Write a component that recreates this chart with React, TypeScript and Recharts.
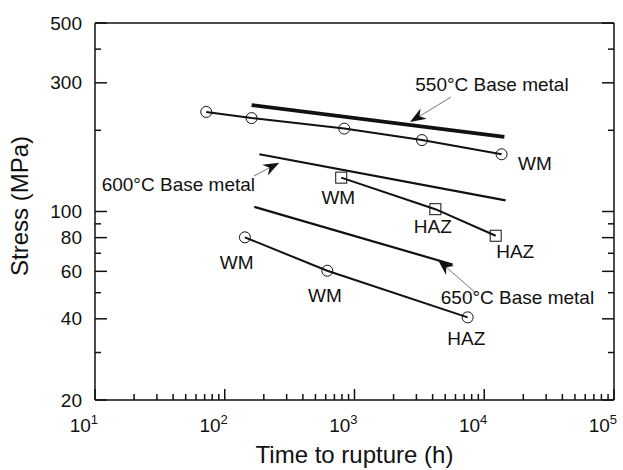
import {
  ComposedChart,
  Scatter,
  XAxis,
  YAxis,
  ReferenceDot,
  ReferenceLine,
  Label,
} from 'recharts';

// time to rupture (h) / stress (MPa)
const wm550Time = [72, 161, 834, 3310, 13600];
const wm550Stress = [234, 222, 203, 184, 163];

const base550Time = [161, 14300];
const base550Stress = [248, 189];

const base600Time = [185, 14600];
const base600Stress = [163, 110];

const weld600Time = [790, 4200, 12250];
const weld600Stress = [133.5, 102, 81.3];

const base650Time = [169, 5700];
const base650Stress = [104, 63.6];

const weld650Time = [143, 617, 7450];
const weld650Stress = [80.2, 60.3, 40.5];

const xMajor = [10, 100, 1000, 10000, 100000];
const xTicks = [
  10, 20, 30, 40, 50, 60, 70, 80, 90,
  100, 200, 300, 400, 500, 600, 700, 800, 900,
  1000, 2000, 3000, 4000, 5000, 6000, 7000, 8000, 9000,
  10000, 20000, 30000, 40000, 50000, 60000, 70000, 80000, 90000,
  100000,
];
const yTicks = [20, 30, 40, 50, 60, 70, 80, 90, 100, 200, 300, 400, 500];
const yLabeled = [20, 40, 60, 80, 100, 300, 500];

// text notes: [text, time, stress]
const notes: [string, number, number][] = [
  ['550°C Base metal', 11470, 297],
  ['WM', 24600, 151],
  ['600°C Base metal', 43.9, 125.7],
  ['WM', 750, 112.7],
  ['HAZ', 4010, 88.1],
  ['HAZ', 17320, 70.9],
  ['WM', 123.6, 64.6],
  ['WM', 592, 48.7],
  ['650°C Base metal', 18030, 48.2],
  ['HAZ', 7275, 34.0],
];

// arrows: tail -> tip
const arrows: [number, number, number, number][] = [
  [5546, 265.8, 2679, 214.6],
  [168, 135.4, 263, 151.7],
  [8635, 49.8, 4400, 66.1],
];

const toPoints = (xs: number[], ys: number[]) => xs.map((x, i) => ({ x, y: ys[i] }));

const ink = '#111';
const font = '"Liberation Sans", Arial, Helvetica, sans-serif';

const Circle = (p: any) => (
  <circle cx={p.cx} cy={p.cy} r={5.5} fill="none" stroke={ink} strokeWidth={1} />
);
const Square = (p: any) => (
  <rect x={p.cx - 5.5} y={p.cy - 5.5} width={11} height={11} fill="none" stroke={ink} strokeWidth={1} />
);
const NoMark = () => <g />;

const BottomTick = (p: any) => {
  const v = p.payload.value;
  const x = Number(p.x);
  const y = Number(p.y);
  const major = xMajor.includes(v);
  return (
    <g>
      <path d={`M${x},${y}V${y - (major ? 11 : 6)}`} stroke={ink} strokeWidth={1.5} fill="none" />
      {major && (
        <text x={x + 3} y={y + 32} textAnchor="end" fontSize={19} fontFamily={font} fill={ink}>
          10
          <tspan dy={-8.5} fontSize={13}>
            {Math.round(Math.log10(v))}
          </tspan>
        </text>
      )}
    </g>
  );
};

const TopTick = (p: any) => {
  const x = Number(p.x);
  const y = Number(p.y);
  const major = xMajor.includes(p.payload.value);
  return <path d={`M${x},${y}V${y + (major ? 11 : 6)}`} stroke={ink} strokeWidth={1.5} fill="none" />;
};

const LeftTick = (p: any) => {
  const v = p.payload.value;
  const x = Number(p.x);
  const y = Number(p.y);
  const major = yLabeled.includes(v);
  return (
    <g>
      <path d={`M${x},${y}H${x + (major ? 12 : 6)}`} stroke={ink} strokeWidth={1.5} fill="none" />
      {major && (
        <text x={x - 13} y={y} dy="0.35em" textAnchor="end" fontSize={19} fontFamily={font} fill={ink}>
          {v}
        </text>
      )}
    </g>
  );
};

const RightTick = (p: any) => {
  const x = Number(p.x);
  const y = Number(p.y);
  const major = yLabeled.includes(p.payload.value);
  return <path d={`M${x},${y}H${x - (major ? 12 : 6)}`} stroke={ink} strokeWidth={1.5} fill="none" />;
};

const NoteText = (text: string) => (p: any) => (
  <text x={p.cx} y={p.cy} dy="0.35em" textAnchor="middle" fontSize={19} fontFamily={font} fill={ink}>
    {text}
  </text>
);

const Arrow = (p: any) => {
  const x1 = Number(p.x1);
  const y1 = Number(p.y1);
  const x2 = Number(p.x2);
  const y2 = Number(p.y2);
  const a = Math.atan2(y2 - y1, x2 - x1);
  const ux = Math.cos(a);
  const uy = Math.sin(a);
  const L = 16;
  const W = 6;
  const N = 11;
  const bx = x2 - L * ux;
  const by = y2 - L * uy;
  const pts = [
    [x2, y2],
    [bx - W * uy, by + W * ux],
    [x2 - N * ux, y2 - N * uy],
    [bx + W * uy, by - W * ux],
  ]
    .map((q) => q.join(','))
    .join(' ');
  return (
    <g>
      <path d={`M${x1},${y1}L${x2 - 8 * ux},${y2 - 8 * uy}`} stroke="#555" strokeWidth={0.8} fill="none" />
      <polygon points={pts} fill={ink} />
    </g>
  );
};

export default function App() {
  return (
    <div style={{ position: 'absolute', left: 0, top: 0, background: '#fff' }}>
      <ComposedChart width={623} height={470} margin={{ top: 0, right: 0, bottom: 0, left: 0 }}>
        <XAxis
          xAxisId="b"
          dataKey="x"
          type="number"
          scale="log"
          domain={[10, 100000]}
          allowDataOverflow
          ticks={xTicks}
          interval={0}
          tickSize={0}
          tickMargin={0}
          tickLine={false}
          tick={BottomTick}
          stroke={ink}
          axisLine={{ stroke: ink, strokeWidth: 1.5 }}
          height={70}
        >
          <Label
            value="Time to rupture (h)"
            position="insideBottom"
            offset={7}
            fontSize={24}
            fontFamily={font}
            fill={ink}
          />
        </XAxis>
        <XAxis
          xAxisId="t"
          orientation="top"
          type="number"
          scale="log"
          domain={[10, 100000]}
          allowDataOverflow
          ticks={xTicks}
          interval={0}
          tickSize={0}
          tickMargin={0}
          tickLine={false}
          tick={TopTick}
          stroke={ink}
          axisLine={{ stroke: ink, strokeWidth: 1.5 }}
          height={23}
        />
        <YAxis
          yAxisId="l"
          dataKey="y"
          type="number"
          scale="log"
          domain={[20, 500]}
          allowDataOverflow
          ticks={yTicks}
          interval={0}
          tickSize={0}
          tickMargin={0}
          tickLine={false}
          tick={LeftTick}
          stroke={ink}
          axisLine={{ stroke: ink, strokeWidth: 1.5 }}
          width={95}
        >
          <Label
            content={() => (
              <text
                x={28}
                y={206}
                transform="rotate(-90, 28, 206)"
                textAnchor="middle"
                fontSize={24}
                fontFamily={font}
                fill={ink}
              >
                Stress (MPa)
              </text>
            )}
          />
        </YAxis>
        <YAxis
          yAxisId="r"
          orientation="right"
          type="number"
          scale="log"
          domain={[20, 500]}
          allowDataOverflow
          ticks={yTicks}
          interval={0}
          tickSize={0}
          tickMargin={0}
          tickLine={false}
          tick={RightTick}
          stroke={ink}
          axisLine={{ stroke: ink, strokeWidth: 1.5 }}
          width={9}
        />

        <Scatter
          xAxisId="b"
          yAxisId="l"
          data={toPoints(base550Time, base550Stress)}
          line={{ stroke: ink, strokeWidth: 3.8 }}
          shape={NoMark}
          isAnimationActive={false}
        />
        <Scatter
          xAxisId="b"
          yAxisId="l"
          data={toPoints(wm550Time, wm550Stress)}
          line={{ stroke: ink, strokeWidth: 2 }}
          shape={Circle}
          isAnimationActive={false}
        />
        <Scatter
          xAxisId="b"
          yAxisId="l"
          data={toPoints(base600Time, base600Stress)}
          line={{ stroke: ink, strokeWidth: 2.2 }}
          shape={NoMark}
          isAnimationActive={false}
        />
        <Scatter
          xAxisId="b"
          yAxisId="l"
          data={toPoints(weld600Time, weld600Stress)}
          line={{ stroke: ink, strokeWidth: 2 }}
          shape={Square}
          isAnimationActive={false}
        />
        <Scatter
          xAxisId="b"
          yAxisId="l"
          data={toPoints(base650Time, base650Stress)}
          line={{ stroke: ink, strokeWidth: 2.2 }}
          shape={NoMark}
          isAnimationActive={false}
        />
        <Scatter
          xAxisId="b"
          yAxisId="l"
          data={toPoints(weld650Time, weld650Stress)}
          line={{ stroke: ink, strokeWidth: 2 }}
          shape={Circle}
          isAnimationActive={false}
        />

        {arrows.map(([tx, ty, hx, hy], i) => (
          <ReferenceLine
            key={'a' + i}
            xAxisId="b"
            yAxisId="l"
            segment={[
              { x: tx, y: ty },
              { x: hx, y: hy },
            ]}
            shape={Arrow}
          />
        ))}
        {notes.map(([text, x, y], i) => (
          <ReferenceDot key={'n' + i} xAxisId="b" yAxisId="l" x={x} y={y} r={0} shape={NoteText(text)} />
        ))}
      </ComposedChart>
    </div>
  );
}
